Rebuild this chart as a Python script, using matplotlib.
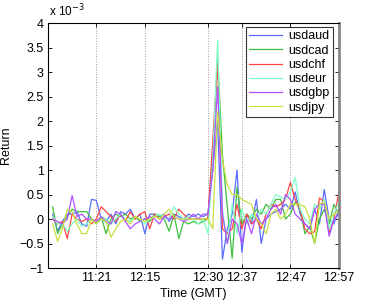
import numpy as np
from matplotlib import pyplot as plt

plt.rcParams['font.family'] = ['Liberation Sans', 'DejaVu Sans']

# returns in units of 1e-3, one value per minute index 1..60
usdaud = [0.1, -0.25, -0.05, 0.1, 0.1, 0.15, -0.1, -0.15, 0.4, 0.38,
          0.0, -0.05, 0.1, -0.1, 0.15, 0.1, 0.2, 0.0, 0.1, -0.3,
          0.1, 0.1, 0.05, 0.1, -0.05, 0.1, 0.05, 0.0, 0.1, 0.05,
          0.1, 0.05, 0.1, 1.0, 2.0, -0.82, -0.2, 0.1, 1.0, -0.68,
          0.1, -0.1, 0.4, -0.5, 0.0, 0.1, 0.15, 0.2, 0.3, 0.2,
          0.55, 0.1, -0.1, -0.2, 0.2, -0.1, 0.6, 0.0, -0.1, 0.2]
usdcad = [0.25, -0.3, -0.1, 0.05, 0.2, 0.15, 0.15, 0.15, 0.0, -0.1,
          0.05, -0.3, 0.0, 0.1, 0.05, 0.1, 0.0, 0.05, -0.05, 0.0,
          -0.05, 0.1, 0.05, 0.0, -0.25, 0.1, -0.4, -0.05, -0.1, -0.05,
          -0.1, -0.05, 0.0, 1.3, 3.3, 1.3, 0.25, -0.8, 0.65, -0.1,
          0.1, 0.0, 0.2, 0.1, 0.3, 0.2, 0.4, 0.4, 0.0, 0.1,
          0.35, 0.2, -0.3, -0.15, -0.5, 0.0, 0.2, -0.1, 0.3, 0.1]
usdchf = [0.0, -0.1, -0.05, -0.4, 0.1, 0.0, -0.05, 0.0, -0.1, 0.0,
          0.25, 0.15, 0.05, -0.05, 0.1, -0.05, 0.15, 0.0, 0.1, 0.15,
          -0.2, 0.1, 0.0, 0.05, 0.1, 0.0, 0.2, 0.1, 0.0, 0.0,
          0.0, 0.0, 0.0, 1.6, 3.2, -0.2, -0.3, -0.2, 0.3, -0.2,
          0.1, -0.1, 0.0, -0.2, 0.1, 0.3, 0.25, 0.3, 0.4, 0.75,
          0.4, 0.2, -0.2, -0.3, -0.26, 0.43, 0.35, -0.3, 0.0, 0.55]
usdeur = [0.05, -0.1, -0.1, -0.25, -0.1, 0.0, -0.15, -0.1, 0.0, -0.05,
          0.05, 0.0, -0.1, 0.0, 0.1, 0.0, -0.05, 0.05, 0.0, -0.1,
          0.0, 0.05, 0.1, 0.0, 0.0, 0.25, 0.1, 0.0, 0.05, 0.0,
          -0.1, 0.0, -0.3, 1.2, 3.65, 0.2, -0.5, 0.3, -0.3, 0.2,
          -0.1, 0.1, 0.0, 0.2, 0.1, 0.3, 0.5, 0.45, 0.4, 0.55,
          0.85, 0.2, 0.0, -0.1, 0.3, 0.2, 0.4, -0.2, 0.1, 0.35]
usdgbp = [0.0, -0.05, -0.1, 0.0, 0.48, 0.05, 0.1, 0.0, 0.0, -0.05,
          0.05, -0.05, -0.1, 0.15, 0.1, -0.05, -0.2, -0.1, -0.05, 0.0,
          0.05, 0.0, -0.1, 0.05, 0.0, 0.05, 0.0, -0.05, 0.0, 0.1,
          0.0, 0.1, 0.1, 1.0, 2.7, 0.1, -0.5, 0.0, -0.1, -0.5,
          0.0, -0.3, 0.1, -0.1, 0.0, 0.2, 0.3, 0.1, 0.5, 0.4,
          0.1, 0.0, -0.1, -0.2, 0.2, 0.3, 0.3, -0.35, 0.0, 0.1]
usdjpy = [-0.1, -0.46, -0.2, 0.2, 0.15, -0.1, -0.3, -0.3, 0.0, -0.1,
          0.0, -0.05, -0.37, -0.2, -0.05, 0.0, -0.1, 0.05, 0.0, -0.05,
          0.0, 0.05, 0.0, 0.1, 0.2, 0.05, 0.0, 0.0, 0.0, 0.0,
          0.0, 0.0, 0.0, -0.2, 2.2, 1.2, 0.7, 0.5, 0.5, 0.4,
          0.35, 0.3, 0.0, -0.1, -0.3, 0.1, 0.2, 0.0, 0.1, 0.3,
          0.3, 0.3, 0.25, 0.0, -0.5, 0.3, 0.35, 0.0, 0.1, 0.15]

names = ['usdaud', 'usdcad', 'usdchf', 'usdeur', 'usdgbp', 'usdjpy']
series = [usdaud, usdcad, usdchf, usdeur, usdgbp, usdjpy]
colors = ['#5b6cff', '#3fbf3f', '#ff4545', '#80ffc8', '#b050ff', '#c8e040']

tick_pos = [10, 20, 33, 40, 50, 60]
tick_labels = ['11:21', '12:15', '12:30', '12:37', '12:47', '12:57']

fig = plt.figure(figsize=(3.74, 3.03), dpi=100)
ax = fig.add_axes([0.128, 0.1155, 0.778, 0.8085])

x = np.arange(1, len(usdaud) + 1)
for name, vals, c in zip(names, series, colors):
    ax.plot(x, vals, color=c, lw=0.9, label=name)

ax.set_xlim(0, 60)
ax.set_ylim(-1, 4)
ax.set_xticks(tick_pos)
ax.set_xticklabels(tick_labels)
ax.set_yticks(np.arange(-1, 4.01, 0.5))
ax.set_yticklabels(['\u22121', '\u22120.5', '0', '0.5', '1', '1.5', '2', '2.5', '3', '3.5', '4'])
ax.tick_params(direction='in', length=3, width=0.6, labelsize=9, top=True, right=True, pad=3)
ax.grid(axis='x', linestyle=':', color='#999999', lw=0.7)
for s in ['left', 'bottom', 'top']:
    ax.spines[s].set_linewidth(0.8)
ax.spines['right'].set_color('#888888')
ax.spines['right'].set_linewidth(2)

ax.set_xlabel('Time (GMT)', fontsize=9, labelpad=3)
ax.set_ylabel('Return', fontsize=9, labelpad=5)
fig.text(0.130, 0.935, 'x 10$^{-3}$', fontsize=8.5, ha='left', va='bottom')

leg = ax.legend(loc='upper right', fontsize=9, frameon=True, fancybox=False,
                edgecolor='black', handlelength=2.6, handletextpad=0.5,
                labelspacing=0.18, borderpad=0.3, borderaxespad=0.0,
                bbox_to_anchor=(0.98, 0.985))
leg.get_frame().set_linewidth(0.8)

fig.savefig('out.png', dpi=100)
